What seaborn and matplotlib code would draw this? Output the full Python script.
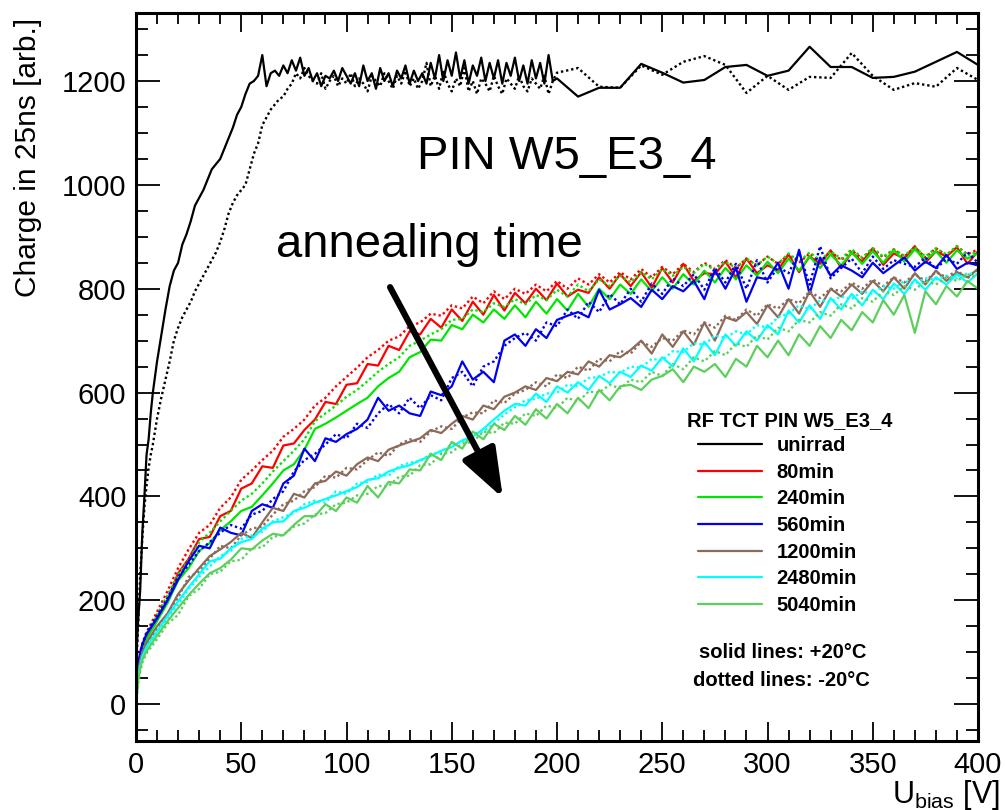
import numpy as np
import matplotlib
matplotlib.use("Agg")
import matplotlib.pyplot as plt
import seaborn as sns
from matplotlib.ticker import MultipleLocator

# ---------------- data ----------------
# bias voltage grid for the unirradiated sensor
V_UNIRR = [0, 1, 2, 3, 4, 5, 6, 7] + list(range(8, 201, 2)) + list(range(210, 401, 10))

UNIRR_SOLID = [
    80, 160, 220, 330, 400, 480, 510, 560,
    # 8 .. 200 step 2
    600, 660, 710, 760, 805, 835, 850, 885, 905, 930,
    960, 975, 990, 1010, 1030, 1040, 1050, 1070, 1090, 1110,
    1135, 1150, 1175, 1195, 1200, 1210, 1250, 1190, 1215, 1220,
    1210, 1230, 1215, 1240, 1220, 1245, 1210, 1225, 1200, 1215,
    1190, 1210, 1205, 1220, 1200, 1225, 1210, 1195, 1215, 1190,
    1230, 1200, 1215, 1185, 1225, 1200, 1215, 1190, 1220, 1205,
    1230, 1195, 1220, 1200, 1215, 1195, 1235, 1205, 1250, 1200,
    1240, 1210, 1255, 1205, 1240, 1195, 1230, 1210, 1245, 1200,
    1235, 1205, 1240, 1195, 1235, 1210, 1245, 1200, 1230, 1195,
    1240, 1205, 1235, 1195, 1250, 1200, 1205,
    # 210 .. 400 step 10
    1170, 1187, 1187, 1233, 1216, 1197, 1202, 1227, 1231, 1210,
    1220, 1266, 1227, 1227, 1206, 1208, 1218, 1237, 1256, 1231,
]

UNIRR_DOTTED = [
    60, 150, 250, 320, 380, 420, 455, 480,
    # 8 .. 200 step 2
    500, 550, 590, 625, 660, 700, 725, 745, 760, 775,
    795, 810, 825, 840, 855, 870, 890, 915, 945, 965,
    980, 990, 1000, 1030, 1060, 1080, 1115, 1130, 1145, 1155,
    1165, 1170, 1185, 1195, 1215, 1205, 1225, 1210, 1200, 1195,
    1215, 1185, 1200, 1210, 1190, 1205, 1195, 1215, 1190, 1205,
    1195, 1180, 1210, 1200, 1190, 1215, 1200, 1185, 1210, 1195,
    1220, 1190, 1205, 1185, 1200, 1235, 1190, 1210, 1185, 1220,
    1195, 1180, 1205, 1190, 1225, 1180, 1200, 1175, 1205, 1195,
    1180, 1210, 1190, 1175, 1205, 1195, 1185, 1210, 1190, 1180,
    1205, 1195, 1185, 1210, 1175, 1200, 1216,
    # 210 .. 400 step 10
    1225, 1189, 1187, 1230, 1212, 1237, 1248, 1231, 1177, 1210,
    1183, 1208, 1206, 1254, 1210, 1183, 1196, 1189, 1225, 1202,
]

# bias voltage grid for the irradiated / annealed sensor
V_IRR = [0, 1, 2, 3] + list(range(5, 401, 5))

R80_SOLID = [
    10, 70, 95, 110, 128, 168, 200, 252, 280, 318,
    322, 362, 372, 415, 425, 458, 455, 498, 502, 528,
    548, 582, 578, 615, 618, 655, 652, 690, 682, 718,
    712, 742, 725, 760, 738, 775, 750, 788, 758, 792,
    772, 800, 778, 810, 785, 798, 792, 822, 800, 828,
    805, 832, 802, 840, 812, 848, 815, 830, 828, 852,
    822, 858, 830, 845, 836, 866, 832, 862, 848, 874,
    840, 870, 852, 878, 846, 868, 858, 882, 850, 872,
    862, 880, 848, 872]
R80_DOTTED = [
    5, 75, 100, 118, 138, 178, 218, 262, 298, 330,
    345, 378, 398, 432, 450, 470, 488, 515, 530, 548,
    575, 590, 612, 630, 648, 668, 682, 700, 708, 728,
    735, 752, 748, 768, 762, 785, 772, 795, 780, 800,
    790, 808, 795, 815, 800, 820, 808, 828, 812, 832,
    818, 838, 822, 842, 828, 848, 832, 850, 838, 855,
    840, 858, 845, 862, 848, 866, 850, 868, 852, 872,
    855, 874, 858, 878, 860, 876, 862, 880, 860, 878,
    864, 882, 866, 876]

G240_SOLID = [
    15, 65, 90, 105, 125, 160, 195, 238, 262, 295,
    310, 335, 352, 372, 380, 402, 425, 450, 462, 490,
    530, 540, 552, 565, 578, 590, 612, 628, 640, 668,
    678, 702, 700, 730, 722, 750, 735, 760, 742, 768,
    745, 775, 752, 780, 758, 790, 765, 800, 780, 808,
    790, 818, 795, 822, 800, 828, 808, 835, 812, 840,
    818, 845, 825, 852, 830, 858, 835, 862, 840, 866,
    845, 870, 848, 872, 850, 875, 852, 876, 855, 872,
    850, 874, 858, 868]
G240_DOTTED = [
    8, 72, 98, 112, 135, 172, 210, 250, 278, 312,
    330, 352, 372, 392, 405, 425, 448, 468, 488, 510,
    545, 560, 575, 592, 605, 622, 640, 655, 668, 690,
    700, 712, 722, 740, 742, 760, 755, 772, 765, 780,
    770, 788, 778, 798, 785, 808, 795, 818, 805, 825,
    812, 832, 818, 838, 825, 842, 830, 848, 836, 852,
    840, 858, 845, 862, 848, 868, 852, 870, 855, 872,
    858, 876, 860, 878, 862, 875, 864, 880, 862, 878,
    866, 882, 864, 872]

B560_SOLID = [
    20, 75, 100, 115, 135, 165, 200, 240, 275, 305,
    300, 340, 330, 325, 372, 385, 378, 425, 440, 492,
    468, 512, 505, 520, 530, 548, 590, 565, 575, 560,
    555, 602, 595, 612, 660, 625, 640, 620, 700, 712,
    690, 722, 705, 740, 748, 755, 745, 798, 760, 770,
    782, 765, 798, 780, 805, 795, 815, 780, 835, 800,
    840, 775, 822, 818, 850, 800, 875, 790, 860, 825,
    845, 835, 822, 850, 830, 845, 860, 835, 852, 840,
    865, 838, 850, 845]
B560_DOTTED = [
    25, 70, 95, 112, 138, 170, 205, 245, 268, 295,
    312, 330, 345, 338, 365, 372, 395, 410, 448, 470,
    482, 500, 520, 512, 540, 532, 560, 578, 560, 590,
    570, 595, 585, 628, 640, 612, 650, 660, 690, 705,
    715, 700, 735, 728, 760, 742, 775, 755, 790, 770,
    800, 775, 810, 790, 820, 805, 828, 798, 840, 812,
    848, 800, 855, 812, 842, 830, 870, 808, 882, 820,
    840, 858, 830, 862, 838, 855, 848, 842, 860, 838,
    858, 848, 870, 850]

BR1200_SOLID = [
    15, 60, 85, 100, 118, 150, 175, 212, 238, 262,
    285, 298, 312, 330, 320, 350, 378, 372, 405, 398,
    425, 430, 448, 440, 462, 475, 468, 490, 498, 505,
    512, 528, 522, 540, 555, 548, 575, 568, 592, 600,
    612, 605, 628, 622, 640, 635, 660, 650, 672, 668,
    682, 700, 675, 712, 688, 718, 692, 735, 700, 745,
    738, 755, 732, 768, 745, 780, 752, 795, 765, 800,
    785, 808, 790, 815, 795, 822, 800, 830, 808, 835,
    815, 832, 822, 838]
BR1200_DOTTED = [
    10, 55, 80, 98, 115, 145, 172, 205, 245, 255,
    280, 305, 300, 325, 338, 342, 365, 385, 392, 410,
    418, 440, 436, 455, 452, 470, 485, 478, 500, 510,
    505, 525, 535, 530, 552, 562, 560, 585, 580, 598,
    605, 620, 612, 635, 628, 650, 642, 665, 660, 680,
    675, 698, 688, 705, 700, 720, 712, 735, 725, 748,
    740, 760, 748, 770, 762, 780, 772, 795, 782, 800,
    795, 812, 800, 818, 805, 822, 812, 828, 815, 832,
    822, 835, 820, 838]

C2480_SOLID = [
    5, 50, 75, 92, 110, 140, 170, 198, 225, 250,
    275, 280, 300, 312, 318, 338, 350, 352, 372, 378,
    388, 395, 402, 410, 418, 432, 435, 448, 455, 460,
    470, 478, 488, 495, 508, 515, 530, 548, 565, 578,
    575, 598, 582, 612, 600, 620, 605, 632, 618, 640,
    630, 652, 642, 668, 650, 685, 660, 698, 672, 712,
    690, 718, 700, 730, 712, 758, 735, 768, 742, 782,
    760, 790, 768, 798, 780, 810, 790, 818, 798, 822,
    808, 828, 812, 830]
C2480_DOTTED = [
    0, 45, 70, 88, 105, 138, 165, 192, 222, 245,
    265, 285, 295, 318, 325, 332, 352, 360, 368, 385,
    392, 388, 410, 405, 425, 428, 442, 440, 458, 465,
    468, 482, 485, 500, 505, 520, 525, 540, 558, 572,
    585, 588, 598, 600, 615, 612, 628, 630, 640, 638,
    650, 648, 665, 662, 680, 678, 695, 692, 710, 705,
    718, 712, 730, 725, 745, 752, 768, 760, 778, 775,
    785, 780, 795, 790, 805, 800, 815, 810, 820, 818,
    825, 820, 830, 826]

LG5040_SOLID = [
    0, 45, 68, 85, 102, 132, 160, 185, 210, 232,
    252, 262, 278, 300, 298, 315, 328, 325, 345, 362,
    362, 385, 372, 398, 388, 420, 398, 428, 425, 452,
    450, 482, 470, 505, 492, 525, 510, 540, 528, 555,
    538, 568, 550, 578, 560, 590, 570, 605, 585, 612,
    615, 605, 625, 632, 645, 620, 650, 640, 655, 630,
    665, 650, 690, 668, 700, 672, 712, 690, 728, 705,
    740, 720, 755, 735, 778, 750, 788, 715, 795, 770,
    805, 785, 815, 800]
LG5040_DOTTED = [
    0, 40, 62, 80, 98, 125, 155, 172, 208, 222,
    250, 255, 275, 278, 300, 302, 322, 326, 342, 348,
    365, 368, 385, 388, 402, 405, 420, 420, 438, 440,
    460, 462, 482, 485, 502, 505, 525, 522, 542, 540,
    560, 555, 575, 570, 590, 582, 602, 600, 615, 608,
    625, 620, 640, 632, 655, 645, 668, 660, 680, 672,
    695, 688, 710, 702, 725, 718, 740, 735, 755, 748,
    770, 762, 782, 775, 795, 788, 805, 798, 815, 808,
    822, 815, 828, 820]

LABELS = ["unirrad", "80min", "240min", "560min", "1200min", "2480min", "5040min"]
COLORS = ["#000000", "#ff0000", "#00e600", "#0000f0", "#8c6a5a", "#00ffff", "#5ccf5c"]

SERIES = [
    (V_UNIRR, UNIRR_SOLID, UNIRR_DOTTED),
    (V_IRR, R80_SOLID, R80_DOTTED),
    (V_IRR, G240_SOLID, G240_DOTTED),
    (V_IRR, B560_SOLID, B560_DOTTED),
    (V_IRR, BR1200_SOLID, BR1200_DOTTED),
    (V_IRR, C2480_SOLID, C2480_DOTTED),
    (V_IRR, LG5040_SOLID, LG5040_DOTTED),
]

# ---------------- plot ----------------
sns.set_style("ticks")
plt.rcParams["font.family"] = ["Liberation Sans", "DejaVu Sans"]
plt.rcParams["text.color"] = "black"
plt.rcParams["xtick.color"] = "black"
plt.rcParams["ytick.color"] = "black"
plt.rcParams["xtick.labelcolor"] = "black"
plt.rcParams["ytick.labelcolor"] = "black"

W, H = 1005, 810
fig = plt.figure(figsize=(W / 100, H / 100), dpi=100)
ax = fig.add_axes([136 / W, 1 - 741 / H, (978 - 136) / W, (741 - 13) / H])

handles = []
for (vx, ys, yd), lab, col in zip(SERIES, LABELS, COLORS):
    sns.lineplot(x=vx, y=yd, ax=ax, color=col, linewidth=1.7,
                 linestyle=(0, (1, 1.2)), estimator=None, sort=False)
    sns.lineplot(x=vx, y=ys, ax=ax, color=col, linewidth=1.6,
                 estimator=None, sort=False)
    handles.append(ax.lines[-1])

ax.set_xlim(0, 400)
ax.set_ylim(-71, 1331)
ax.xaxis.set_major_locator(MultipleLocator(50))
ax.xaxis.set_minor_locator(MultipleLocator(10))
ax.yaxis.set_major_locator(MultipleLocator(200))
ax.yaxis.set_minor_locator(MultipleLocator(50))
ax.tick_params(axis="both", which="both", direction="in", top=True, right=True,
               color="black", labelcolor="black", width=1.3)
ax.tick_params(axis="y", which="major", length=17, labelsize=21, pad=7)
ax.tick_params(axis="y", which="minor", length=8.5)
ax.tick_params(axis="x", which="major", length=14, labelsize=21, pad=7)
ax.tick_params(axis="x", which="minor", length=8)
for s in ax.spines.values():
    s.set_linewidth(2.2)
    s.set_color("black")
ax.set_xlabel("")
ax.set_ylabel("")

fig.text(28 / W, 1 - 18 / H, "Charge in 25ns [arb.]", rotation=90,
         ha="center", va="top", fontsize=21.5, color="black")
fig.text(1000 / W, 1 - 803 / H, r"U$_{\mathregular{bias}}$ [V]",
         ha="right", va="baseline", fontsize=22, color="black")

fig.text(567 / W, 1 - 157 / H, "PIN W5_E3_4", ha="center", va="center",
         fontsize=34, color="black")
fig.text(429 / W, 1 - 245 / H, "annealing time", ha="center", va="center",
         fontsize=34, color="black")

ax.annotate("", xy=(174.3, 397), xytext=(120.7, 803),
            arrowprops=dict(arrowstyle="-|>,head_length=30,head_width=11",
                            mutation_scale=1, lw=4.5, color="black",
                            shrinkA=0, shrinkB=0))

bold = dict(weight="bold", size=14.5)
fig.text(790 / W, 1 - 421 / H, "RF TCT PIN W5_E3_4", ha="center", va="center",
         fontweight="bold", fontsize=14.5, color="black")
leg = ax.legend(handles, LABELS, loc="upper left",
                bbox_to_anchor=(698 / W, 1 - 436 / H), bbox_transform=fig.transFigure,
                frameon=False, borderpad=0, borderaxespad=0, handlelength=3.2,
                handletextpad=0.7, labelspacing=0.38, prop=bold)
for t in leg.get_texts():
    t.set_color("black")
fig.text(783 / W, 1 - 653 / H, "solid lines: +20°C", ha="center", va="center",
         fontweight="bold", fontsize=14.5, color="black")
fig.text(781 / W, 1 - 681 / H, "dotted lines: -20°C", ha="center", va="center",
         fontweight="bold", fontsize=14.5, color="black")

fig.savefig("out.png", dpi=100)
